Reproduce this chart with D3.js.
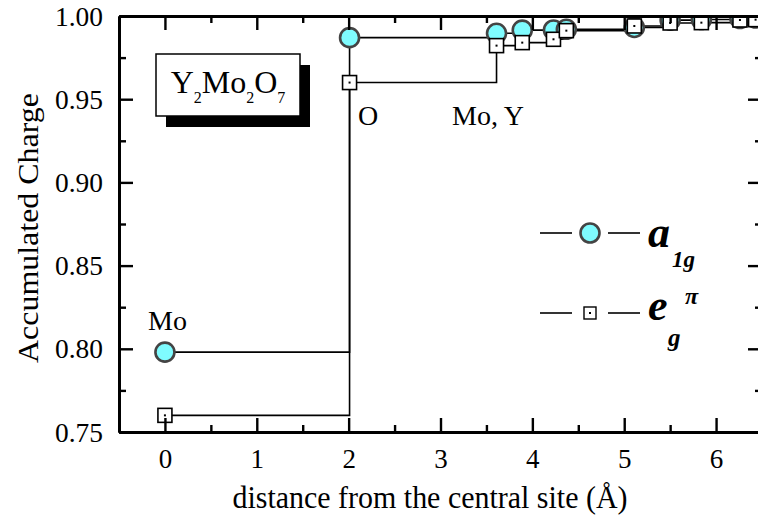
<!DOCTYPE html>
<html>
<head>
<meta charset="utf-8">
<script src="https://cdn.jsdelivr.net/npm/d3@7"></script>
<style>
  html, body { margin: 0; padding: 0; background: #fff; }
  svg { display: block; font-family: "Liberation Serif", "DejaVu Serif", serif; }
</style>
</head>
<body>
<svg id="chart" width="758" height="520"></svg>
<script>
// ---- data ----
const distances = [0, 2.01, 3.61, 3.89, 4.23, 4.37, 5.11, 5.50, 5.84, 6.26, 6.43];
const a1gCharge = [0.798, 0.987, 0.9896, 0.9915, 0.9916, 0.992, 0.9931, 0.9975, 0.9979, 0.9985, 0.9988];
const egCharge  = [0.760, 0.960, 0.9822, 0.984, 0.986, 0.9912, 0.994, 0.9958, 0.996, 0.9976, 0.9978];
const xTicks = [0, 1, 2, 3, 4, 5, 6];
const xMinorTicks = [0.5, 1.5, 2.5, 3.5, 4.5, 5.5];
const yTicks = [0.75, 0.80, 0.85, 0.90, 0.95, 1.00];
const yMinorTicks = [0.775, 0.825, 0.875, 0.925, 0.975];
const siteLabels = [
  { text: "Mo", x: 0, y: 0.798 },
  { text: "O", x: 2.01, y: 0.96 },
  { text: "Mo, Y", x: 3.61, y: 0.96 }
];

// ---- layout ----
const svg = d3.select("#chart");
const L = 119, R = 762, T = 16, B = 432;
const x = d3.scaleLinear().domain([-0.5, 6.5]).range([L, R]);
const y = d3.scaleLinear().domain([0.75, 1.00]).range([B, T]);

svg.append("defs").append("clipPath").attr("id", "plotclip")
  .append("rect").attr("x", L).attr("y", T + 1).attr("width", R - L).attr("height", B - T);

// ---- data lines ----
const a1gData = distances.map((d, i) => ({ x: d, y: a1gCharge[i] }));
const egData = distances.map((d, i) => ({ x: d, y: egCharge[i] }));
const line = d3.line().x(d => x(d.x)).y(d => y(d.y)).curve(d3.curveStepAfter);

const plot = svg.append("g").attr("clip-path", "url(#plotclip)");
plot.append("path").datum(a1gData).attr("d", line)
  .attr("fill", "none").attr("stroke", "#000").attr("stroke-width", 1.6);
plot.append("path").datum(egData).attr("d", line)
  .attr("fill", "none").attr("stroke", "#000").attr("stroke-width", 1.6);

plot.selectAll("circle.a1g").data(a1gData).join("circle").attr("class", "a1g")
  .attr("cx", d => x(d.x)).attr("cy", d => y(d.y)).attr("r", 9.5)
  .attr("fill", "#7ffcff").attr("stroke", "#444").attr("stroke-width", 2.6);

const sq = 14;
const sqG = plot.selectAll("g.eg").data(egData).join("g").attr("class", "eg")
  .attr("transform", d => `translate(${x(d.x)},${y(d.y)})`);
sqG.append("rect").attr("x", -sq / 2).attr("y", -sq / 2).attr("width", sq).attr("height", sq)
  .attr("fill", "#fff").attr("stroke", "#000").attr("stroke-width", 1.6);
sqG.append("rect").attr("x", -1).attr("y", -1).attr("width", 2).attr("height", 2).attr("fill", "#000");

// ---- axes ----
function styleAxis(g) {
  g.select(".domain").attr("stroke", "#000").attr("stroke-width", 3);
  g.selectAll(".tick line").attr("stroke", "#000").attr("stroke-width", 2.4);
}
const axB = svg.append("g").attr("transform", `translate(0,${B})`)
  .call(d3.axisBottom(x).tickValues(xTicks).tickSize(-14).tickSizeOuter(0).tickFormat(d3.format("d")));
axB.selectAll(".tick text").attr("y", 0).attr("dy", 0).attr("transform", "translate(0,36)")
  .attr("font-size", 27).attr("font-family", "Liberation Serif").attr("fill", "#000");
styleAxis(axB);
const axBm = svg.append("g").attr("transform", `translate(0,${B})`)
  .call(d3.axisBottom(x).tickValues(xMinorTicks).tickSize(-7).tickSizeOuter(0).tickFormat(""));
styleAxis(axBm);

const axT = svg.append("g").attr("transform", `translate(0,${T})`)
  .call(d3.axisTop(x).tickValues(xTicks).tickSize(-14).tickSizeOuter(0).tickFormat(""));
styleAxis(axT);
const axTm = svg.append("g").attr("transform", `translate(0,${T})`)
  .call(d3.axisTop(x).tickValues(xMinorTicks).tickSize(-7).tickSizeOuter(0).tickFormat(""));
styleAxis(axTm);

const axL = svg.append("g").attr("transform", `translate(${L},0)`)
  .call(d3.axisLeft(y).tickValues(yTicks).tickSize(-14).tickSizeOuter(0).tickFormat(d3.format(".2f")));
axL.selectAll(".tick text").attr("x", -16).attr("dy", 9).attr("text-anchor", "end")
  .attr("font-size", 27).attr("textLength", 48).attr("lengthAdjust", "spacingAndGlyphs")
  .attr("font-family", "Liberation Serif").attr("fill", "#000");
styleAxis(axL);
const axLm = svg.append("g").attr("transform", `translate(${L},0)`)
  .call(d3.axisLeft(y).tickValues(yMinorTicks).tickSize(-7).tickSizeOuter(0).tickFormat(""));
styleAxis(axLm);

const axR = svg.append("g").attr("transform", `translate(${R},0)`)
  .call(d3.axisRight(y).tickValues(yTicks).tickSize(-14).tickSizeOuter(0).tickFormat(""));
styleAxis(axR);
const axRm = svg.append("g").attr("transform", `translate(${R},0)`)
  .call(d3.axisRight(y).tickValues(yMinorTicks).tickSize(-7).tickSizeOuter(0).tickFormat(""));
styleAxis(axRm);

// ---- axis titles ----
svg.append("text").attr("x", 430).attr("y", 508).attr("text-anchor", "middle")
  .attr("font-size", 31).attr("textLength", 395).attr("lengthAdjust", "spacingAndGlyphs")
  .text("distance from the central site (Å)");
svg.append("text").attr("transform", "translate(38,228) rotate(-90)").attr("text-anchor", "middle")
  .attr("font-size", 30).attr("textLength", 270).attr("lengthAdjust", "spacingAndGlyphs")
  .text("Accumulated Charge");

// ---- site labels ----
const labelPos = { "Mo": [148, 330], "O": [358, 125], "Mo, Y": [452, 125] };
svg.selectAll("text.site").data(siteLabels).join("text").attr("class", "site")
  .attr("x", d => labelPos[d.text][0]).attr("y", d => labelPos[d.text][1])
  .attr("font-size", 28).text(d => d.text);

// ---- compound box ----
svg.append("rect").attr("x", 166).attr("y", 65).attr("width", 144).attr("height", 62).attr("fill", "#000");
svg.append("rect").attr("x", 156).attr("y", 54).attr("width", 144).attr("height", 62)
  .attr("fill", "#fff").attr("stroke", "#000").attr("stroke-width", 1.5);
const comp = svg.append("text").attr("x", 228).attr("y", 93).attr("text-anchor", "middle").attr("font-size", 32);
comp.append("tspan").text("Y");
comp.append("tspan").attr("font-size", 16).attr("dy", 10).text("2");
comp.append("tspan").attr("dy", -10).text("Mo");
comp.append("tspan").attr("font-size", 16).attr("dy", 10).text("2");
comp.append("tspan").attr("dy", -10).text("O");
comp.append("tspan").attr("font-size", 16).attr("dy", 10).text("7");

// ---- legend ----
const leg = svg.append("g");
[233, 313].forEach(ly => {
  leg.append("line").attr("x1", 540).attr("x2", 572).attr("y1", ly).attr("y2", ly).attr("stroke", "#000").attr("stroke-width", 1.6);
  leg.append("line").attr("x1", 608).attr("x2", 640).attr("y1", ly).attr("y2", ly).attr("stroke", "#000").attr("stroke-width", 1.6);
});
leg.append("circle").attr("cx", 590).attr("cy", 233).attr("r", 9.5)
  .attr("fill", "#7ffcff").attr("stroke", "#444").attr("stroke-width", 2.6);
leg.append("rect").attr("x", 584).attr("y", 307).attr("width", 12).attr("height", 12)
  .attr("fill", "#fff").attr("stroke", "#000").attr("stroke-width", 1.4);
leg.append("rect").attr("x", 589).attr("y", 312).attr("width", 2).attr("height", 2).attr("fill", "#000");

leg.append("text").attr("x", 648).attr("y", 247).attr("font-size", 44)
  .attr("font-style", "italic").attr("font-weight", "bold").text("a");
leg.append("text").attr("x", 672).attr("y", 267).attr("font-size", 23)
  .attr("font-style", "italic").attr("font-weight", "bold").text("1g");
leg.append("text").attr("x", 648).attr("y", 320).attr("font-size", 44)
  .attr("font-style", "italic").attr("font-weight", "bold").text("e");
leg.append("text").attr("x", 685).attr("y", 304).attr("font-size", 24)
  .attr("font-style", "italic").attr("font-weight", "bold").text("π");
leg.append("text").attr("x", 668).attr("y", 346).attr("font-size", 25)
  .attr("font-style", "italic").attr("font-weight", "bold").text("g");
</script>
</body>
</html>
